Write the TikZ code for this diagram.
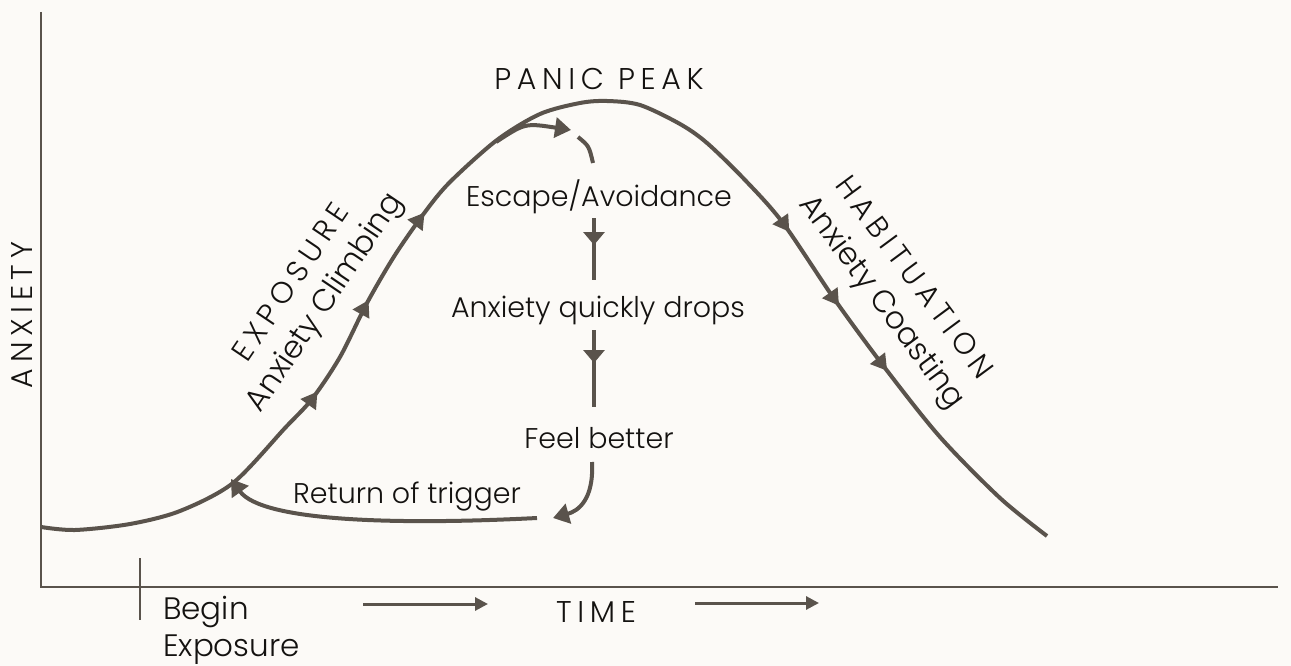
\documentclass[tikz,border=0pt]{standalone}
\usepackage{fontspec}
\setmainfont{Poppins}[UprightFont=* Light]
\newfontfamily\capsfont{Poppins}[UprightFont=* Light, LetterSpace=19]
\usetikzlibrary{arrows.meta,decorations.markings}
\definecolor{bgc}{HTML}{FCFAF7}
\definecolor{lnc}{HTML}{5A534C}
\definecolor{txc}{HTML}{141210}
\begin{document}
\begin{tikzpicture}[x=1pt,y=-1pt,
  txt/.style={font=\fontsize{28.5}{32}\selectfont, text=txc, inner sep=0pt},
  bigtxt/.style={font=\fontsize{31}{35}\selectfont, text=txc, inner sep=0pt},
  capstxt/.style={font=\capsfont\fontsize{30}{34}\selectfont, text=txc, inner sep=0pt},
  axisline/.style={draw=lnc, line width=2.5pt},
  conn/.style={draw=lnc, line width=4pt},
  thinarrow/.style={draw=lnc, line width=3pt, -{Triangle[length=13pt,width=13pt]}},
  bigtip/.style={-{Triangle[length=16pt,width=20pt]}},
  flowmarks/.style={postaction={decorate}, decoration={markings,
     mark=at position 326pt with {\arrow[lnc]{Triangle[length=16pt,width=18pt]}},
     mark=at position 431pt with {\arrow[lnc]{Triangle[length=16pt,width=18pt]}},
     mark=at position 535pt with {\arrow[lnc]{Triangle[length=16pt,width=18pt]}},
     mark=at position 989pt with {\arrow[lnc]{Triangle[length=16pt,width=18pt]}},
     mark=at position 1078pt with {\arrow[lnc]{Triangle[length=16pt,width=18pt]}},
     mark=at position 1159pt with {\arrow[lnc]{Triangle[length=16pt,width=18pt]}}}}
]
\fill[bgc] (0,0) rectangle (1291,666);
\useasboundingbox (0,0) rectangle (1291,666);

% axes
\coordinate (ytop) at (41,12);
\coordinate (orig) at (41,587);
\coordinate (xend) at (1278,587);
\draw[axisline] (ytop) -- (orig) -- (xend);
\coordinate (tickt) at (140,558);
\coordinate (tickb) at (140,620);
\draw[draw=lnc, line width=2pt] (tickt) -- (tickb);

% main curve
\draw[conn, flowmarks] plot[smooth, tension=0.5] coordinates {
 (41,527) (75,530) (130,524) (180,511) (233,483) (285,428) (312,399) (340,357)
 (367,303) (395,255) (425,212) (450,182) (497,140) (540,114) (580,103) (607,101)
 (640,105) (680,124) (707,143) (745,180) (783,223)
 (835,300) (885,368) (940,437) (1000,498) (1047,536)};

% labels
\node[capstxt] (peak) at (599,79) {PANIC PEAK};
\node[txt] (esc) at (599,197) {Escape/Avoidance};
\node[txt] (drop) at (598,310) {Anxiety quickly drops};
\node[txt] (feel) at (599,438) {Feel better};
\node[txt] (ret) at (407,497) {Return of trigger};
\node[bigtxt, anchor=base west] (begin) at (163,619) {Begin};
\node[bigtxt, anchor=base west] (expo) at (163,656) {Exposure};
\node[capstxt, anchor=base] (time) at (596,622) {TIME};
\node[capstxt, rotate=90] (anx) at (22,315) {ANXIETY};
\node[capstxt, rotate=56] (exposure) at (290,282) {EXPOSURE};
\node[bigtxt, rotate=56] (climb) at (326,303) {Anxiety Climbing};
\node[capstxt, rotate=-53.5] (habit) at (915,277) {HABITUATION};
\node[bigtxt, rotate=-53.5] (coast) at (881,303) {Anxiety Coasting};

% peak escape arrow
\coordinate (pa1) at (496,142);
\coordinate (pa2) at (571,130);
\draw[conn, bigtip] (pa1) .. controls (525,123) .. (pa2);
\coordinate (da1) at (578,137);
\coordinate (da2) at (593,163);
\draw[conn] (da1) .. controls (589,146) .. (da2);

% vertical drops
\coordinate (v1a) at (594,218);
\coordinate (v1b) at (594,280);
\draw[conn, postaction={decorate}, decoration={markings, mark=at position 27pt with {\arrow[lnc]{Triangle[length=13pt,width=21pt]}}}] (v1a) -- (v1b);
\coordinate (v2a) at (594,330);
\coordinate (v2b) at (594,407);
\draw[conn, postaction={decorate}, decoration={markings, mark=at position 33pt with {\arrow[lnc]{Triangle[length=13pt,width=21pt]}}}] (v2a) -- (v2b);

% feel better -> return
\coordinate (fb1) at (592,462);
\coordinate (fb2) at (553,518);
\draw[conn, bigtip] (fb1) .. controls (594,500) and (578,511) .. (fb2);

% return of trigger
\coordinate (rt1) at (537,518);
\coordinate (rt2) at (231,479);
\draw[conn, bigtip] (rt1) .. controls (400,525) and (262,522) .. (rt2);

% time arrows
\coordinate (ta1) at (363,604);
\coordinate (ta2) at (488,604);
\draw[thinarrow] (ta1) -- (ta2);
\coordinate (tb1) at (695,603);
\coordinate (tb2) at (819,603);
\draw[thinarrow] (tb1) -- (tb2);
\end{tikzpicture}
\end{document}
